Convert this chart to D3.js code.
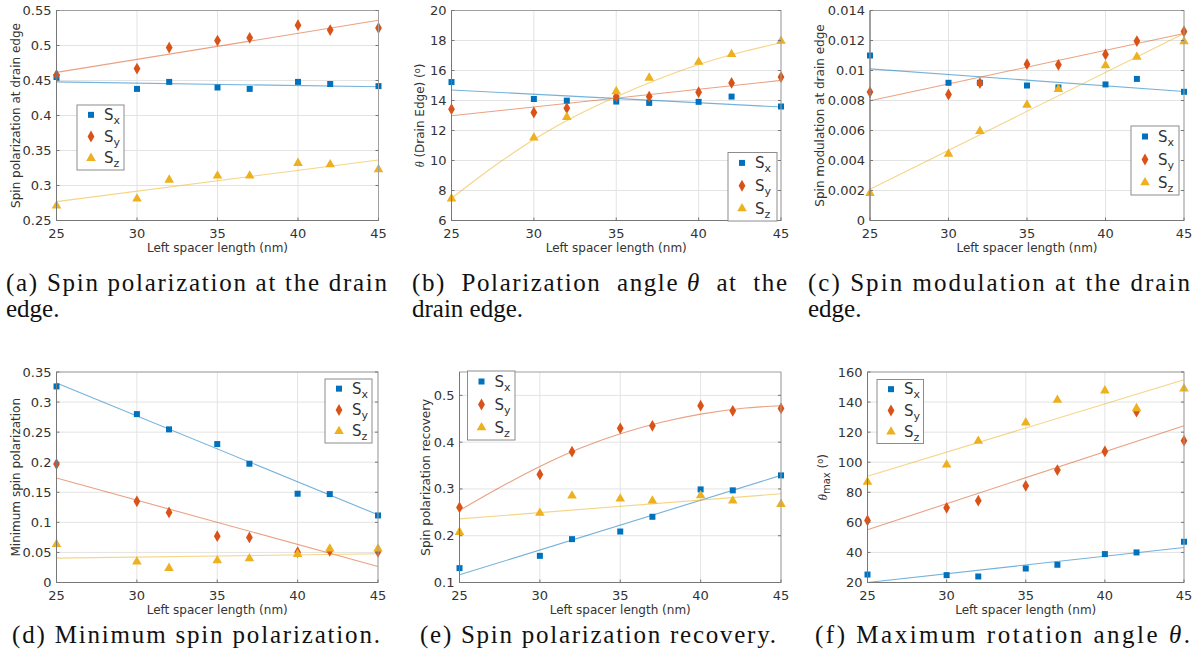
<!DOCTYPE html>
<html>
<head>
<meta charset="utf-8">
<script src="https://cdn.jsdelivr.net/npm/d3@7"></script>
<style>
  body { margin: 0; background: #fff; }
  svg { display: block; }
  .tick-label { font-family: "DejaVu Sans", sans-serif; font-size: 13px; fill: #333; }
  .axis-label { font-family: "DejaVu Sans", sans-serif; font-size: 12px; fill: #333; }
  .legend-text { font-family: "DejaVu Sans", sans-serif; font-size: 15px; fill: #333; }
  .caption { font-family: "Liberation Serif", "DejaVu Serif", serif; font-size: 25px; fill: #111; }
</style>
</head>
<body>
<svg id="chart" width="1203" height="666"></svg>
<script>
// x positions (left spacer length, nm)
const xVals = [25, 30, 32, 35, 37, 40, 42, 45];
const lineX = [25, 45];
const curveX = [25, 27.5, 30, 32.5, 35, 37.5, 40, 42.5, 45];

// (a) spin polarization at drain edge
const aSx = [0.455, 0.438, 0.448, 0.440, 0.438, 0.448, 0.445, 0.442];
const aSy = [0.458, 0.467, 0.497, 0.507, 0.511, 0.529, 0.522, 0.525];
const aSz = [0.271, 0.281, 0.308, 0.314, 0.314, 0.332, 0.330, 0.323];
const aFitSx = [0.448, 0.441];
const aFitSy = [0.4616, 0.536];
const aFitSz = [0.277, 0.3365];
const aTicks = [0.25, 0.3, 0.35, 0.4, 0.45, 0.5, 0.55];

// (b) polarization angle at drain edge
const bSx = [15.23, 14.10, 13.99, 13.93, 13.84, 13.91, 14.26, 13.60];
const bSy = [13.42, 13.20, 13.49, 14.26, 14.26, 14.55, 15.17, 15.56];
const bSz = [7.46, 11.52, 12.89, 14.61, 15.51, 16.57, 17.08, 17.97];
const bFitSx = [14.70, 13.57];
const bFitSy = [12.98, 15.34];
const bFitSz = [7.48, 9.55, 11.4, 12.95, 14.25, 15.4, 16.4, 17.2, 17.85];
const bTicks = [6, 8, 10, 12, 14, 16, 18, 20];

// (c) spin modulation at drain edge
const cSx = [0.0110, 0.00918, 0.00918, 0.0090, 0.00887, 0.00907, 0.00944, 0.00858];
const cSy = [0.00856, 0.0084, 0.00916, 0.01042, 0.01038, 0.01107, 0.01196, 0.0126];
const cSz = [0.00182, 0.00444, 0.00596, 0.00771, 0.00876, 0.01033, 0.01091, 0.01193];
const cFitSx = [0.01011, 0.0086];
const cFitSy = [0.00798, 0.01247];
const cFitSz = [0.00209, 0.01247];
const cTicks = [0, 0.002, 0.004, 0.006, 0.008, 0.01, 0.012, 0.014];

// (d) minimum spin polarization
const dSx = [0.326, 0.280, 0.2546, 0.2302, 0.1975, 0.1476, 0.147, 0.1115];
const dSy = [0.197, 0.135, 0.1165, 0.0771, 0.0749, 0.0505, 0.0527, 0.051];
const dSz = [0.0636, 0.0344, 0.0239, 0.0366, 0.040, 0.047, 0.056, 0.056];
const dFitSx = [0.3317, 0.1126];
const dFitSy = [0.1736, 0.0266];
const dFitSz = [0.0405, 0.0477];
const dTicks = [0, 0.05, 0.1, 0.15, 0.2, 0.25, 0.3, 0.35];

// (e) spin polarization recovery
const eSx = [0.1307, 0.157, 0.1927, 0.209, 0.2405, 0.299, 0.297, 0.329];
const eSy = [0.2605, 0.331, 0.3796, 0.4295, 0.435, 0.478, 0.467, 0.472];
const eSz = [0.2077, 0.2484, 0.2855, 0.279, 0.2748, 0.286, 0.2748, 0.2676];
const eFitSx = [0.1164, 0.329];
const eFitSy = [0.254, 0.303, 0.348, 0.387, 0.418, 0.442, 0.460, 0.472, 0.478];
const eFitSz = [0.236, 0.2897];
const eTicks = [0.1, 0.2, 0.3, 0.4, 0.5];

// (f) maximum rotation angle
const fSx = [25.3, 24.9, 24.0, 29.3, 31.8, 38.9, 40.0, 47.1];
const fSy = [61.3, 69.7, 74.4, 84.3, 94.8, 107.2, 133.6, 114.3];
const fSz = [86.8, 98.3, 114.1, 126.3, 141.4, 147.6, 135.8, 148.9];
const fFitSx = [20.0, 43.3];
const fFitSy = [55.1, 124.3];
const fFitSz = [90.6, 154.9];
const fTicks = [20, 40, 60, 80, 100, 120, 140, 160];

const xTicks = [25, 30, 35, 40, 45];
const seriesNames = ['x', 'y', 'z'];
const colors = ['#0072BD', '#D95319', '#EDB120'];
const symbols = [d3.symbolSquare, d3.symbolDiamond, d3.symbolTriangle];

const panels = [
    { box: [56.5, 10.5, 378.5, 220.5], domain: [0.25, 0.55], ticks: aTicks,
      pts: [aSx, aSy, aSz], fits: [[lineX, aFitSx], [lineX, aFitSy], [lineX, aFitSz]],
      ylab: 'plain', ytext: 'Spin polarization at drain edge', ylx: 16,
      legend: [77, 105, 124, 170],
      cap: ['(a) Spin polarization at the drain', 'edge.'], capX: 6, capW: 381 },
    { box: [451.5, 10.5, 781, 220.5], domain: [6, 20], ticks: bTicks,
      pts: [bSx, bSy, bSz], fits: [[lineX, bFitSx], [lineX, bFitSy], [curveX, bFitSz]],
      ylab: 'thetaDrain', ylx: 420,
      legend: [728, 152.5, 777, 221],
      cap: ['(b)  Polarization  angle θ  at  the', 'drain edge.'], capX: 412, capW: 375 },
    { box: [870, 10.5, 1184, 220.5], domain: [0, 0.014], ticks: cTicks,
      pts: [cSx, cSy, cSz], fits: [[lineX, cFitSx], [lineX, cFitSy], [lineX, cFitSz]],
      ylab: 'plain', ytext: 'Spin modulation at drain edge', ylx: 820,
      legend: [1131, 126, 1179, 195],
      cap: ['(c) Spin modulation at the drain', 'edge.'], capX: 808, capW: 382 },
    { box: [56.5, 372, 378, 582.5], domain: [0, 0.35], ticks: dTicks,
      pts: [dSx, dSy, dSz], fits: [[lineX, dFitSx], [lineX, dFitSy], [lineX, dFitSz]],
      ylab: 'plain', ytext: 'Minimum spin polarization', ylx: 16,
      legend: [325, 379, 372, 443],
      cap: ['(d) Minimum spin polarization.'], capX: 12, capW: 368 },
    { box: [459.5, 372, 781, 582.5], domain: [0.1, 0.55], ticks: eTicks,
      pts: [eSx, eSy, eSz], fits: [[lineX, eFitSx], [curveX, eFitSy], [lineX, eFitSz]],
      ylab: 'plain', ytext: 'Spin polarization recovery', ylx: 426,
      legend: [467.5, 371, 515, 440],
      cap: ['(e) Spin polarization recovery.'], capX: 420, capW: 356 },
    { box: [867.5, 372, 1184, 582.5], domain: [20, 160], ticks: fTicks,
      pts: [fSx, fSy, fSz], fits: [[lineX, fFitSx], [lineX, fFitSy], [lineX, fFitSz]],
      ylab: 'thetaMax', ylx: 823,
      legend: [877, 379.5, 923.5, 443.5],
      cap: ['(f) Maximum rotation angle θ.'], capX: 815, capW: 375 }
];

const svg = d3.select('#chart');

function fmt(v) {
    return String(+v.toFixed(4));
}

panels.forEach(p => {
    const [x0, y0, x1, y1] = p.box;
    const x = d3.scaleLinear().domain([25, 45]).range([x0, x1]);
    const y = d3.scaleLinear().domain(p.domain).range([y1, y0]);
    const g = svg.append('g');

    // plot background + grid
    g.append('rect').attr('x', x0).attr('y', y0)
        .attr('width', x1 - x0).attr('height', y1 - y0).attr('fill', '#fff');
    g.selectAll('.gx').data(xTicks).join('line')
        .attr('x1', d => x(d)).attr('x2', d => x(d))
        .attr('y1', y0).attr('y2', y1)
        .attr('stroke', '#e3e3e3').attr('stroke-width', 1);
    g.selectAll('.gy').data(p.ticks).join('line')
        .attr('x1', x0).attr('x2', x1)
        .attr('y1', d => y(d)).attr('y2', d => y(d))
        .attr('stroke', '#e3e3e3').attr('stroke-width', 1);

    // fit lines
    p.fits.forEach((f, i) => {
        const pts = f[0].map((xv, k) => [xv, f[1][k]]);
        g.append('path')
            .datum(pts)
            .attr('fill', 'none')
            .attr('stroke', colors[i])
            .attr('stroke-opacity', 0.55)
            .attr('stroke-width', 1.1)
            .attr('d', d3.line().x(d => x(d[0])).y(d => y(d[1])).curve(d3.curveMonotoneX));
    });

    // markers
    p.pts.forEach((vals, i) => {
        g.selectAll(null).data(vals).join('path')
            .attr('transform', (d, k) => `translate(${x(xVals[k])},${y(d)})`)
            .attr('d', d3.symbol().type(symbols[i]).size(i === 0 ? 36 : 40))
            .attr('fill', colors[i]);
    });

    // axes box
    g.append('rect').attr('x', x0).attr('y', y0)
        .attr('width', x1 - x0).attr('height', y1 - y0)
        .attr('fill', 'none').attr('stroke', '#a0a0a0').attr('stroke-width', 1);
    g.append('line').attr('x1', x0).attr('x2', x0).attr('y1', y0).attr('y2', y1)
        .attr('stroke', '#777');
    g.append('line').attr('x1', x0).attr('x2', x1).attr('y1', y1).attr('y2', y1)
        .attr('stroke', '#777');

    // ticks
    g.selectAll('.ty').data(p.ticks).join('line')
        .attr('x1', x0).attr('x2', x0 + 3)
        .attr('y1', d => y(d)).attr('y2', d => y(d)).attr('stroke', '#777');
    g.selectAll('.tyr').data(p.ticks).join('line')
        .attr('x1', x1 - 3).attr('x2', x1)
        .attr('y1', d => y(d)).attr('y2', d => y(d)).attr('stroke', '#777');
    g.selectAll('.tx').data(xTicks).join('line')
        .attr('x1', d => x(d)).attr('x2', d => x(d))
        .attr('y1', y1 - 3).attr('y2', y1).attr('stroke', '#777');

    g.selectAll('.ly').data(p.ticks).join('text')
        .attr('class', 'tick-label')
        .attr('x', x0 - 5).attr('y', d => y(d) + 4.5)
        .attr('text-anchor', 'end')
        .text(fmt);
    g.selectAll('.lx').data(xTicks).join('text')
        .attr('class', 'tick-label')
        .attr('x', d => x(d)).attr('y', y1 + 17)
        .attr('text-anchor', 'middle')
        .text(d => d);

    g.append('text').attr('class', 'axis-label')
        .attr('x', (x0 + x1) / 2).attr('y', y1 + 31)
        .attr('text-anchor', 'middle')
        .text('Left spacer length (nm)');

    // y label
    const yl = g.append('text').attr('class', 'axis-label')
        .attr('transform', `translate(${p.ylx},${(y0 + y1) / 2}) rotate(-90)`)
        .attr('text-anchor', 'middle')
        .attr('dy', '0.35em');
    if (p.ylab === 'plain') {
        yl.text(p.ytext);
    } else if (p.ylab === 'thetaDrain') {
        yl.append('tspan').attr('font-family', 'Liberation Serif, DejaVu Serif, serif').attr('font-style', 'italic').text('θ');
        yl.append('tspan').text(' (Drain Edge) (');
        yl.append('tspan').attr('dy', -4).attr('font-size', 8).text('o');
        yl.append('tspan').attr('dy', 4).text(')');
    } else {
        yl.append('tspan').attr('font-family', 'Liberation Serif, DejaVu Serif, serif').attr('font-style', 'italic').attr('font-size', 13).text('θ');
        yl.append('tspan').attr('dy', 3).attr('font-size', 10).text('max');
        yl.append('tspan').attr('dy', -3).text(' (');
        yl.append('tspan').attr('dy', -4).attr('font-size', 8).text('o');
        yl.append('tspan').attr('dy', 4).text(')');
    }

    // legend
    const [lx0, ly0, lx1, ly1] = p.legend;
    g.append('rect').attr('x', lx0).attr('y', ly0)
        .attr('width', lx1 - lx0).attr('height', ly1 - ly0)
        .attr('fill', '#fff').attr('stroke', '#8c8c8c');
    const rowH = (ly1 - ly0) / 3;
    seriesNames.forEach((nm, i) => {
        const cy = ly0 + rowH * (i + 0.5) - 1;
        g.append('path')
            .attr('transform', `translate(${lx0 + 14},${cy})`)
            .attr('d', d3.symbol().type(symbols[i]).size(i === 0 ? 36 : 40))
            .attr('fill', colors[i]);
        const t = g.append('text').attr('class', 'legend-text')
            .attr('x', lx0 + 27).attr('y', cy + 5);
        t.append('tspan').text('S');
        t.append('tspan').attr('dy', 4).attr('font-size', 11).text(nm);
    });

    // caption
    const capTop = y1 > 300 ? 643 : 291;
    p.cap.forEach((line, k) => {
        const t = svg.append('text').attr('class', 'caption')
            .attr('x', p.capX).attr('y', capTop + k * 26)
            .attr('xml:space', 'preserve');
        if (k === 0) t.attr('textLength', p.capW).attr('lengthAdjust', 'spacing');
        if (line.includes('θ')) {
            const parts = line.split('θ');
            t.append('tspan').text(parts[0]);
            t.append('tspan').attr('font-style', 'italic').text('θ');
            t.append('tspan').text(parts[1]);
        } else {
            t.text(line);
        }
    });
});
</script>
</body>
</html>
